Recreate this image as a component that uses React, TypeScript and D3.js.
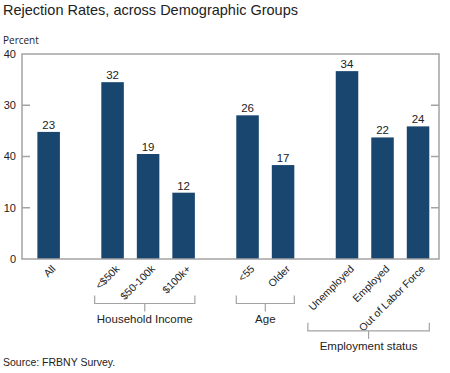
import React, { useRef, useEffect } from "react";
import * as d3 from "d3";

const categories = ["All", "<$50k", "$50-100k", "$100k+", "<55", "Older", "Unemployed", "Employed", "Out of Labor Force"];
const rates = [23, 32, 19, 12, 26, 17, 34, 22, 24];
const groupNames = ["", "Household Income", "Age", "Employment status"];
const groupOf = [0, 1, 1, 1, 2, 2, 3, 3, 3];
const yTicks = [0, 10, 20, 30, 40];
const yTickLabels = ["0", "10", "40", "30", "40"];

const W = 450;
const H = 373;

export default function App() {
  const ref = useRef<SVGSVGElement>(null);

  useEffect(() => {
    if (!ref.current) return;
    const svg = d3.select(ref.current);
    svg.selectAll("*").remove();

    const font = "'Liberation Sans', Arial, sans-serif";
    const textColor = "#222";
    const frameColor = "#a3a3a3";
    const left = 22, right = 439, top = 54, bottom = 259;

    // slot position: index plus a smaller gap between groups
    const slot = categories.map((_, i) => i + 0.8 * groupOf[i]);
    const x = d3.scaleLinear().domain([-0.75, 10.99]).range([left, right]);
    const barW = x(0.634) - x(0);
    const y = d3.scaleLinear().domain([0, 37.1]).range([bottom, top]);
    const yAxis = d3.scaleLinear().domain([0, 40]).range([bottom, top]);

    svg.append("text").attr("x", 3).attr("y", 15)
      .attr("font-family", font).attr("font-size", 14.5).attr("fill", textColor)
      .text("Rejection Rates, across Demographic Groups");

    svg.append("text").attr("x", 3).attr("y", 44)
      .attr("font-family", "'Open Sans', sans-serif").attr("font-size", 10).attr("fill", textColor)
      .text("Percent");

    // bars
    svg.selectAll(".bar").data(rates).enter().append("rect")
      .attr("x", (d, i) => x(slot[i]) - barW / 2)
      .attr("y", d => y(d))
      .attr("width", barW)
      .attr("height", d => bottom - y(d))
      .attr("fill", "#19466f");

    svg.selectAll(".val").data(rates).enter().append("text")
      .attr("x", (d, i) => x(slot[i]))
      .attr("y", d => y(d) - 3)
      .attr("text-anchor", "middle")
      .attr("font-family", font).attr("font-size", 11.5).attr("fill", textColor)
      .text(d => d);

    // frame and ticks
    svg.append("rect").attr("x", left).attr("y", top)
      .attr("width", right - left).attr("height", bottom - top)
      .attr("fill", "none").attr("stroke", frameColor).attr("stroke-width", 1.5);

    yTicks.forEach((t, i) => {
      const ty = yAxis(t);
      if (i > 0 && i < yTicks.length - 1) {
        svg.append("line").attr("x1", left).attr("x2", left + 8).attr("y1", ty).attr("y2", ty)
          .attr("stroke", frameColor).attr("stroke-width", 1.5);
        svg.append("line").attr("x1", right - 8).attr("x2", right).attr("y1", ty).attr("y2", ty)
          .attr("stroke", frameColor).attr("stroke-width", 1.5);
      }
      svg.append("text").attr("x", 16).attr("y", ty).attr("dy", "0.35em")
        .attr("text-anchor", "end")
        .attr("font-family", font).attr("font-size", 11).attr("fill", textColor)
        .text(yTickLabels[i]);
    });

    // category labels, grouped so each group's extent can be measured
    const labelGroups = groupNames.map(() => svg.append("g"));
    categories.forEach((c, i) => {
      const cx = x(slot[i]) + 5;
      const cy = bottom + 8;
      labelGroups[groupOf[i]].append("text")
        .attr("transform", `translate(${cx},${cy}) rotate(-45)`)
        .attr("text-anchor", "end")
        .attr("dy", "0.35em")
        .attr("font-family", font).attr("font-size", 10.5).attr("fill", textColor)
        .text(c);
    });

    // brackets under each group
    groupNames.forEach((name, g) => {
      if (!name) return;
      const idx = categories.map((_, i) => i).filter(i => groupOf[i] === g);
      const bb = (labelGroups[g].node() as SVGGElement).getBBox();
      const lastRight = x(slot[idx[idx.length - 1]]) + barW / 2;
      const x0 = Math.min(bb.x + 2, x(slot[idx[0]]) - barW / 2);
      const x1 = lastRight;
      const by = Math.max(bb.y + bb.height - 2.5, bottom + 44.5);
      const mid = (x0 + x1) / 2;
      const b = svg.append("g").attr("stroke", frameColor).attr("stroke-width", 1.2).attr("fill", "none");
      b.append("path").attr("d", `M${x0},${by - 8}V${by}H${x1}V${by - 8}`);
      b.append("line").attr("x1", mid).attr("x2", mid).attr("y1", by).attr("y2", by + 8);
      svg.append("text").attr("x", mid).attr("y", by + 19)
        .attr("text-anchor", "middle")
        .attr("font-family", font).attr("font-size", 11.5).attr("fill", textColor)
        .text(name);
    });

    svg.append("text").attr("x", 3).attr("y", 366)
      .attr("font-family", font).attr("font-size", 10.5).attr("fill", textColor)
      .text("Source: FRBNY Survey.");
  }, []);

  return (
    <svg ref={ref} width={W} height={H}
      style={{ position: "absolute", left: 0, top: 0, background: "#fff" }} />
  );
}
